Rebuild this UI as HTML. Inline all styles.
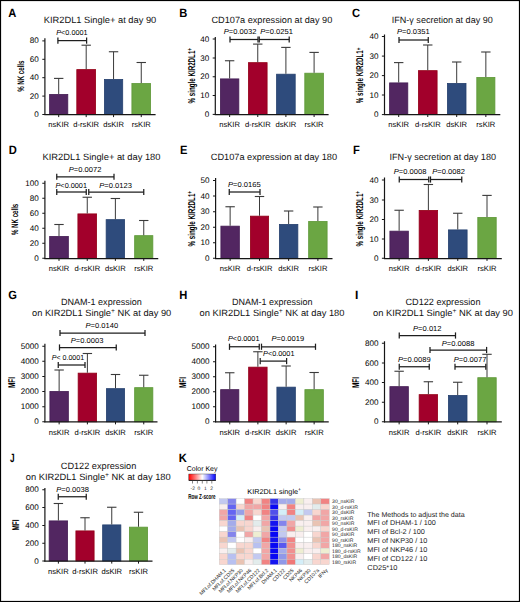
<!DOCTYPE html>
<html><head><meta charset="utf-8"><style>
html,body{margin:0;padding:0;background:#fff;width:520px;height:602px;overflow:hidden;position:relative}
svg text{font-family:"Liberation Sans", sans-serif;stroke-width:0px;text-rendering:geometricPrecision;-webkit-font-smoothing:antialiased}
</style></head><body>
<svg width="520" height="602" viewBox="0 0 520 602" style="position:absolute;left:0;top:0">
<rect x="0" y="0" width="520" height="602" fill="#fff"/>
<text x="8.3" y="17" font-size="12" text-anchor="start" font-weight="700" fill="#000" stroke="#000" textLength="8.06" lengthAdjust="spacingAndGlyphs"  style="">A</text>
<text x="43.75" y="23.3" font-size="9.1" text-anchor="start" font-weight="400" fill="#111" stroke="#111" textLength="112.5" lengthAdjust="spacingAndGlyphs"  style="">KIR2DL1 Single+ at day 90</text>
<rect x="49.60" y="94.40" width="18.20" height="20.10" fill="#522661" stroke="#451d54" stroke-width="0.8"/>
<line x1="58.7" y1="94" x2="58.7" y2="78.4" stroke="#3a3a3a" stroke-width="1.0"/>
<line x1="54.0" y1="78.4" x2="63.400000000000006" y2="78.4" stroke="#3a3a3a" stroke-width="1.1"/>
<line x1="58.7" y1="114.5" x2="58.7" y2="117.1" stroke="#161616" stroke-width="1.0"/>
<text x="58.7" y="126.8" font-size="7.6" text-anchor="middle" font-weight="400" fill="#000" stroke="#000"  style="">nsKIR</text>
<rect x="76.80" y="69.60" width="18.80" height="44.90" fill="#A2002B" stroke="#930016" stroke-width="0.8"/>
<line x1="86.2" y1="69.2" x2="86.2" y2="45.2" stroke="#3a3a3a" stroke-width="1.0"/>
<line x1="81.5" y1="45.2" x2="90.9" y2="45.2" stroke="#3a3a3a" stroke-width="1.1"/>
<line x1="86.2" y1="114.5" x2="86.2" y2="117.1" stroke="#161616" stroke-width="1.0"/>
<text x="86.2" y="126.8" font-size="7.6" text-anchor="middle" font-weight="400" fill="#000" stroke="#000"  style="">d-rsKIR</text>
<rect x="104.40" y="79.40" width="18.30" height="35.10" fill="#2E4B7C" stroke="#25406e" stroke-width="0.8"/>
<line x1="113.55" y1="79" x2="113.55" y2="51.75" stroke="#3a3a3a" stroke-width="1.0"/>
<line x1="108.85" y1="51.75" x2="118.25" y2="51.75" stroke="#3a3a3a" stroke-width="1.1"/>
<line x1="113.55" y1="114.5" x2="113.55" y2="117.1" stroke="#161616" stroke-width="1.0"/>
<text x="113.55" y="126.8" font-size="7.6" text-anchor="middle" font-weight="400" fill="#000" stroke="#000"  style="">dsKIR</text>
<rect x="131.90" y="83.50" width="18.70" height="31.00" fill="#6BA643" stroke="#5e9838" stroke-width="0.8"/>
<line x1="141.25" y1="83.1" x2="141.25" y2="62.5" stroke="#3a3a3a" stroke-width="1.0"/>
<line x1="136.55" y1="62.5" x2="145.95" y2="62.5" stroke="#3a3a3a" stroke-width="1.1"/>
<line x1="141.25" y1="114.5" x2="141.25" y2="117.1" stroke="#161616" stroke-width="1.0"/>
<text x="141.25" y="126.8" font-size="7.6" text-anchor="middle" font-weight="400" fill="#000" stroke="#000"  style="">rsKIR</text>
<line x1="44.9" y1="38.2" x2="44.9" y2="115.1" stroke="#161616" stroke-width="1.2"/>
<line x1="44.3" y1="114.7" x2="155.6" y2="114.7" stroke="#161616" stroke-width="1.25"/>
<line x1="42.3" y1="114.5" x2="44.9" y2="114.5" stroke="#161616" stroke-width="1.0"/>
<text x="38.8" y="117.0" font-size="8.1" text-anchor="end" font-weight="400" fill="#000" stroke="#000"  style="">0</text>
<line x1="42.3" y1="96.1" x2="44.9" y2="96.1" stroke="#161616" stroke-width="1.0"/>
<text x="38.8" y="98.6" font-size="8.1" text-anchor="end" font-weight="400" fill="#000" stroke="#000"  style="">20</text>
<line x1="42.3" y1="77.7" x2="44.9" y2="77.7" stroke="#161616" stroke-width="1.0"/>
<text x="38.8" y="80.2" font-size="8.1" text-anchor="end" font-weight="400" fill="#000" stroke="#000"  style="">40</text>
<line x1="42.3" y1="59.3" x2="44.9" y2="59.3" stroke="#161616" stroke-width="1.0"/>
<text x="38.8" y="61.8" font-size="8.1" text-anchor="end" font-weight="400" fill="#000" stroke="#000"  style="">60</text>
<line x1="42.3" y1="40.9" x2="44.9" y2="40.9" stroke="#161616" stroke-width="1.0"/>
<text x="38.8" y="43.4" font-size="8.1" text-anchor="end" font-weight="400" fill="#000" stroke="#000"  style="">80</text>
<text x="0" y="0" font-size="9.4" font-weight="700" fill="#000" text-anchor="middle" textLength="31.3" lengthAdjust="spacingAndGlyphs" transform="translate(23.8,76.2) rotate(-90)">% NK cells</text>
<text x="56.25" y="35" font-size="7.2" fill="#000" stroke="#000" textLength="31.3" lengthAdjust="spacingAndGlyphs"><tspan font-style="italic">P</tspan>&lt;0.0001</text>
<line x1="57.9" y1="40.6" x2="86.6" y2="40.6" stroke="#1e1e1e" stroke-width="1.25"/>
<line x1="57.9" y1="37.5" x2="57.9" y2="43.7" stroke="#1e1e1e" stroke-width="1.25"/>
<line x1="86.6" y1="37.5" x2="86.6" y2="43.7" stroke="#1e1e1e" stroke-width="1.25"/>
<text x="179.3" y="17" font-size="12" text-anchor="start" font-weight="700" fill="#000" stroke="#000" textLength="8.06" lengthAdjust="spacingAndGlyphs"  style="">B</text>
<text x="211.5" y="23.3" font-size="9.1" text-anchor="start" font-weight="400" fill="#111" stroke="#111" textLength="120.8" lengthAdjust="spacingAndGlyphs"  style="">CD107a expression at day 90</text>
<rect x="220.40" y="78.90" width="18.45" height="35.50" fill="#522661" stroke="#451d54" stroke-width="0.8"/>
<line x1="229.625" y1="78.5" x2="229.625" y2="60.75" stroke="#3a3a3a" stroke-width="1.0"/>
<line x1="224.925" y1="60.75" x2="234.325" y2="60.75" stroke="#3a3a3a" stroke-width="1.1"/>
<line x1="229.625" y1="114.4" x2="229.625" y2="117.0" stroke="#161616" stroke-width="1.0"/>
<text x="229.625" y="126.8" font-size="7.6" text-anchor="middle" font-weight="400" fill="#000" stroke="#000"  style="">nsKIR</text>
<rect x="248.40" y="62.65" width="18.70" height="51.75" fill="#A2002B" stroke="#930016" stroke-width="0.8"/>
<line x1="257.75" y1="62.25" x2="257.75" y2="44.1" stroke="#3a3a3a" stroke-width="1.0"/>
<line x1="253.05" y1="44.1" x2="262.45" y2="44.1" stroke="#3a3a3a" stroke-width="1.1"/>
<line x1="257.75" y1="114.4" x2="257.75" y2="117.0" stroke="#161616" stroke-width="1.0"/>
<text x="257.75" y="126.8" font-size="7.6" text-anchor="middle" font-weight="400" fill="#000" stroke="#000"  style="">d-rsKIR</text>
<rect x="276.60" y="74.20" width="18.60" height="40.20" fill="#2E4B7C" stroke="#25406e" stroke-width="0.8"/>
<line x1="285.9" y1="73.8" x2="285.9" y2="47.4" stroke="#3a3a3a" stroke-width="1.0"/>
<line x1="281.2" y1="47.4" x2="290.59999999999997" y2="47.4" stroke="#3a3a3a" stroke-width="1.1"/>
<line x1="285.9" y1="114.4" x2="285.9" y2="117.0" stroke="#161616" stroke-width="1.0"/>
<text x="285.9" y="126.8" font-size="7.6" text-anchor="middle" font-weight="400" fill="#000" stroke="#000"  style="">dsKIR</text>
<rect x="304.80" y="73.20" width="18.60" height="41.20" fill="#6BA643" stroke="#5e9838" stroke-width="0.8"/>
<line x1="314.1" y1="72.8" x2="314.1" y2="52.4" stroke="#3a3a3a" stroke-width="1.0"/>
<line x1="309.40000000000003" y1="52.4" x2="318.8" y2="52.4" stroke="#3a3a3a" stroke-width="1.1"/>
<line x1="314.1" y1="114.4" x2="314.1" y2="117.0" stroke="#161616" stroke-width="1.0"/>
<text x="314.1" y="126.8" font-size="7.6" text-anchor="middle" font-weight="400" fill="#000" stroke="#000"  style="">rsKIR</text>
<line x1="215.3" y1="37" x2="215.3" y2="115.0" stroke="#161616" stroke-width="1.2"/>
<line x1="214.70000000000002" y1="114.60000000000001" x2="328.6" y2="114.60000000000001" stroke="#161616" stroke-width="1.25"/>
<line x1="212.70000000000002" y1="114.4" x2="215.3" y2="114.4" stroke="#161616" stroke-width="1.0"/>
<text x="209.20000000000002" y="116.9" font-size="8.1" text-anchor="end" font-weight="400" fill="#000" stroke="#000"  style="">0</text>
<line x1="212.70000000000002" y1="95.5" x2="215.3" y2="95.5" stroke="#161616" stroke-width="1.0"/>
<text x="209.20000000000002" y="98.0" font-size="8.1" text-anchor="end" font-weight="400" fill="#000" stroke="#000"  style="">10</text>
<line x1="212.70000000000002" y1="76.75" x2="215.3" y2="76.75" stroke="#161616" stroke-width="1.0"/>
<text x="209.20000000000002" y="79.25" font-size="8.1" text-anchor="end" font-weight="400" fill="#000" stroke="#000"  style="">20</text>
<line x1="212.70000000000002" y1="58" x2="215.3" y2="58" stroke="#161616" stroke-width="1.0"/>
<text x="209.20000000000002" y="60.5" font-size="8.1" text-anchor="end" font-weight="400" fill="#000" stroke="#000"  style="">30</text>
<line x1="212.70000000000002" y1="39" x2="215.3" y2="39" stroke="#161616" stroke-width="1.0"/>
<text x="209.20000000000002" y="41.5" font-size="8.1" text-anchor="end" font-weight="400" fill="#000" stroke="#000"  style="">40</text>
<text x="0" y="0" font-size="9.9" font-weight="700" fill="#000" text-anchor="middle" textLength="55.5" lengthAdjust="spacingAndGlyphs" transform="translate(194.9,75.8) rotate(-90)">% single KIR2DL1<tspan font-size="7" dy="-2.6">+</tspan></text>
<text x="223.75" y="34.2" font-size="7.2" fill="#000" stroke="#000" textLength="32.6" lengthAdjust="spacingAndGlyphs"><tspan font-style="italic">P</tspan>=0.0032</text>
<text x="260.3" y="34.2" font-size="7.2" fill="#000" stroke="#000" textLength="32.6" lengthAdjust="spacingAndGlyphs"><tspan font-style="italic">P</tspan>=0.0251</text>
<line x1="230" y1="39.5" x2="258" y2="39.5" stroke="#1e1e1e" stroke-width="1.25"/>
<line x1="230" y1="36.4" x2="230" y2="42.6" stroke="#1e1e1e" stroke-width="1.25"/>
<line x1="258" y1="36.4" x2="258" y2="42.6" stroke="#1e1e1e" stroke-width="1.25"/>
<line x1="259.25" y1="39.5" x2="289.2" y2="39.5" stroke="#1e1e1e" stroke-width="1.25"/>
<line x1="259.25" y1="36.4" x2="259.25" y2="42.6" stroke="#1e1e1e" stroke-width="1.25"/>
<line x1="289.2" y1="36.4" x2="289.2" y2="42.6" stroke="#1e1e1e" stroke-width="1.25"/>
<text x="352" y="17" font-size="12" text-anchor="start" font-weight="700" fill="#000" stroke="#000" textLength="8.06" lengthAdjust="spacingAndGlyphs"  style="">C</text>
<text x="391.75" y="23.3" font-size="9.1" text-anchor="start" font-weight="400" fill="#111" stroke="#111" textLength="101" lengthAdjust="spacingAndGlyphs"  style="">IFN-γ secretion at day 90</text>
<rect x="389.60" y="82.90" width="18.20" height="31.50" fill="#522661" stroke="#451d54" stroke-width="0.8"/>
<line x1="398.7" y1="82.5" x2="398.7" y2="62.6" stroke="#3a3a3a" stroke-width="1.0"/>
<line x1="394.0" y1="62.6" x2="403.4" y2="62.6" stroke="#3a3a3a" stroke-width="1.1"/>
<line x1="398.7" y1="114.4" x2="398.7" y2="117.0" stroke="#161616" stroke-width="1.0"/>
<text x="398.7" y="126.8" font-size="7.6" text-anchor="middle" font-weight="400" fill="#000" stroke="#000"  style="">nsKIR</text>
<rect x="418.40" y="70.65" width="18.70" height="43.75" fill="#A2002B" stroke="#930016" stroke-width="0.8"/>
<line x1="427.75" y1="70.25" x2="427.75" y2="45" stroke="#3a3a3a" stroke-width="1.0"/>
<line x1="423.05" y1="45" x2="432.45" y2="45" stroke="#3a3a3a" stroke-width="1.1"/>
<line x1="427.75" y1="114.4" x2="427.75" y2="117.0" stroke="#161616" stroke-width="1.0"/>
<text x="427.75" y="126.8" font-size="7.6" text-anchor="middle" font-weight="400" fill="#000" stroke="#000"  style="">d-rsKIR</text>
<rect x="447.40" y="83.40" width="18.60" height="31.00" fill="#2E4B7C" stroke="#25406e" stroke-width="0.8"/>
<line x1="456.7" y1="83" x2="456.7" y2="62" stroke="#3a3a3a" stroke-width="1.0"/>
<line x1="452.0" y1="62" x2="461.4" y2="62" stroke="#3a3a3a" stroke-width="1.1"/>
<line x1="456.7" y1="114.4" x2="456.7" y2="117.0" stroke="#161616" stroke-width="1.0"/>
<text x="456.7" y="126.8" font-size="7.6" text-anchor="middle" font-weight="400" fill="#000" stroke="#000"  style="">dsKIR</text>
<rect x="476.80" y="77.40" width="18.10" height="37.00" fill="#6BA643" stroke="#5e9838" stroke-width="0.8"/>
<line x1="485.85" y1="77" x2="485.85" y2="52" stroke="#3a3a3a" stroke-width="1.0"/>
<line x1="481.15000000000003" y1="52" x2="490.55" y2="52" stroke="#3a3a3a" stroke-width="1.1"/>
<line x1="485.85" y1="114.4" x2="485.85" y2="117.0" stroke="#161616" stroke-width="1.0"/>
<text x="485.85" y="126.8" font-size="7.6" text-anchor="middle" font-weight="400" fill="#000" stroke="#000"  style="">rsKIR</text>
<line x1="384.5" y1="34.5" x2="384.5" y2="115.0" stroke="#161616" stroke-width="1.2"/>
<line x1="383.9" y1="114.60000000000001" x2="500.3" y2="114.60000000000001" stroke="#161616" stroke-width="1.25"/>
<line x1="381.9" y1="114.6" x2="384.5" y2="114.6" stroke="#161616" stroke-width="1.0"/>
<text x="378.4" y="117.1" font-size="8.1" text-anchor="end" font-weight="400" fill="#000" stroke="#000"  style="">0</text>
<line x1="381.9" y1="95" x2="384.5" y2="95" stroke="#161616" stroke-width="1.0"/>
<text x="378.4" y="97.5" font-size="8.1" text-anchor="end" font-weight="400" fill="#000" stroke="#000"  style="">10</text>
<line x1="381.9" y1="75.6" x2="384.5" y2="75.6" stroke="#161616" stroke-width="1.0"/>
<text x="378.4" y="78.1" font-size="8.1" text-anchor="end" font-weight="400" fill="#000" stroke="#000"  style="">20</text>
<line x1="381.9" y1="56.1" x2="384.5" y2="56.1" stroke="#161616" stroke-width="1.0"/>
<text x="378.4" y="58.6" font-size="8.1" text-anchor="end" font-weight="400" fill="#000" stroke="#000"  style="">30</text>
<line x1="381.9" y1="36.5" x2="384.5" y2="36.5" stroke="#161616" stroke-width="1.0"/>
<text x="378.4" y="39.0" font-size="8.1" text-anchor="end" font-weight="400" fill="#000" stroke="#000"  style="">40</text>
<text x="0" y="0" font-size="9.9" font-weight="700" fill="#000" text-anchor="middle" textLength="55.5" lengthAdjust="spacingAndGlyphs" transform="translate(363.1,75.5) rotate(-90)">% single KIR2DL1<tspan font-size="7" dy="-2.6">+</tspan></text>
<text x="397" y="34.2" font-size="7.2" fill="#000" stroke="#000" textLength="32.6" lengthAdjust="spacingAndGlyphs"><tspan font-style="italic">P</tspan>=0.0351</text>
<line x1="399" y1="40" x2="428.25" y2="40" stroke="#1e1e1e" stroke-width="1.25"/>
<line x1="399" y1="36.9" x2="399" y2="43.1" stroke="#1e1e1e" stroke-width="1.25"/>
<line x1="428.25" y1="36.9" x2="428.25" y2="43.1" stroke="#1e1e1e" stroke-width="1.25"/>
<text x="8.75" y="154.3" font-size="12" text-anchor="start" font-weight="700" fill="#000" stroke="#000" textLength="8.06" lengthAdjust="spacingAndGlyphs"  style="">D</text>
<text x="42.5" y="160" font-size="9.1" text-anchor="start" font-weight="400" fill="#111" stroke="#111" textLength="118" lengthAdjust="spacingAndGlyphs"  style="">KIR2DL1 Single+ at day 180</text>
<rect x="49.65" y="236.40" width="18.70" height="21.90" fill="#522661" stroke="#451d54" stroke-width="0.8"/>
<line x1="59.0" y1="236" x2="59.0" y2="224.5" stroke="#3a3a3a" stroke-width="1.0"/>
<line x1="54.3" y1="224.5" x2="63.7" y2="224.5" stroke="#3a3a3a" stroke-width="1.1"/>
<line x1="59.0" y1="258.3" x2="59.0" y2="260.90000000000003" stroke="#161616" stroke-width="1.0"/>
<text x="59.0" y="271.25" font-size="7.6" text-anchor="middle" font-weight="400" fill="#000" stroke="#000"  style="">nsKIR</text>
<rect x="77.90" y="213.90" width="18.70" height="44.40" fill="#A2002B" stroke="#930016" stroke-width="0.8"/>
<line x1="87.25" y1="213.5" x2="87.25" y2="197.25" stroke="#3a3a3a" stroke-width="1.0"/>
<line x1="82.55" y1="197.25" x2="91.95" y2="197.25" stroke="#3a3a3a" stroke-width="1.1"/>
<line x1="87.25" y1="258.3" x2="87.25" y2="260.90000000000003" stroke="#161616" stroke-width="1.0"/>
<text x="87.25" y="271.25" font-size="7.6" text-anchor="middle" font-weight="400" fill="#000" stroke="#000"  style="">d-rsKIR</text>
<rect x="106.15" y="219.65" width="18.45" height="38.65" fill="#2E4B7C" stroke="#25406e" stroke-width="0.8"/>
<line x1="115.375" y1="219.25" x2="115.375" y2="198.5" stroke="#3a3a3a" stroke-width="1.0"/>
<line x1="110.675" y1="198.5" x2="120.075" y2="198.5" stroke="#3a3a3a" stroke-width="1.1"/>
<line x1="115.375" y1="258.3" x2="115.375" y2="260.90000000000003" stroke="#161616" stroke-width="1.0"/>
<text x="115.375" y="271.25" font-size="7.6" text-anchor="middle" font-weight="400" fill="#000" stroke="#000"  style="">dsKIR</text>
<rect x="134.65" y="235.65" width="18.20" height="22.65" fill="#6BA643" stroke="#5e9838" stroke-width="0.8"/>
<line x1="143.75" y1="235.25" x2="143.75" y2="220.5" stroke="#3a3a3a" stroke-width="1.0"/>
<line x1="139.05" y1="220.5" x2="148.45" y2="220.5" stroke="#3a3a3a" stroke-width="1.1"/>
<line x1="143.75" y1="258.3" x2="143.75" y2="260.90000000000003" stroke="#161616" stroke-width="1.0"/>
<text x="143.75" y="271.25" font-size="7.6" text-anchor="middle" font-weight="400" fill="#000" stroke="#000"  style="">rsKIR</text>
<line x1="44.9" y1="180.75" x2="44.9" y2="258.90000000000003" stroke="#161616" stroke-width="1.2"/>
<line x1="44.3" y1="258.5" x2="158.25" y2="258.5" stroke="#161616" stroke-width="1.25"/>
<line x1="42.3" y1="258.25" x2="44.9" y2="258.25" stroke="#161616" stroke-width="1.0"/>
<text x="38.8" y="260.75" font-size="8.1" text-anchor="end" font-weight="400" fill="#000" stroke="#000"  style="">0</text>
<line x1="42.3" y1="243.25" x2="44.9" y2="243.25" stroke="#161616" stroke-width="1.0"/>
<text x="38.8" y="245.75" font-size="8.1" text-anchor="end" font-weight="400" fill="#000" stroke="#000"  style="">20</text>
<line x1="42.3" y1="228.25" x2="44.9" y2="228.25" stroke="#161616" stroke-width="1.0"/>
<text x="38.8" y="230.75" font-size="8.1" text-anchor="end" font-weight="400" fill="#000" stroke="#000"  style="">40</text>
<line x1="42.3" y1="213.25" x2="44.9" y2="213.25" stroke="#161616" stroke-width="1.0"/>
<text x="38.8" y="215.75" font-size="8.1" text-anchor="end" font-weight="400" fill="#000" stroke="#000"  style="">60</text>
<line x1="42.3" y1="198.25" x2="44.9" y2="198.25" stroke="#161616" stroke-width="1.0"/>
<text x="38.8" y="200.75" font-size="8.1" text-anchor="end" font-weight="400" fill="#000" stroke="#000"  style="">80</text>
<line x1="42.3" y1="183.25" x2="44.9" y2="183.25" stroke="#161616" stroke-width="1.0"/>
<text x="38.8" y="185.75" font-size="8.1" text-anchor="end" font-weight="400" fill="#000" stroke="#000"  style="">100</text>
<text x="0" y="0" font-size="9.4" font-weight="700" fill="#000" text-anchor="middle" textLength="31.3" lengthAdjust="spacingAndGlyphs" transform="translate(18.3,219.4) rotate(-90)">% NK cells</text>
<text x="68.75" y="172" font-size="7.2" fill="#000" stroke="#000" textLength="32.6" lengthAdjust="spacingAndGlyphs"><tspan font-style="italic">P</tspan>=0.0072</text>
<text x="55.5" y="187.5" font-size="7.2" fill="#000" stroke="#000" textLength="31.5" lengthAdjust="spacingAndGlyphs"><tspan font-style="italic">P</tspan>&lt;0.0001</text>
<text x="99.25" y="187.5" font-size="7.2" fill="#000" stroke="#000" textLength="32.6" lengthAdjust="spacingAndGlyphs"><tspan font-style="italic">P</tspan>=0.0123</text>
<line x1="56.75" y1="176.75" x2="114" y2="176.75" stroke="#1e1e1e" stroke-width="1.25"/>
<line x1="56.75" y1="173.65" x2="56.75" y2="179.85" stroke="#1e1e1e" stroke-width="1.25"/>
<line x1="114" y1="173.65" x2="114" y2="179.85" stroke="#1e1e1e" stroke-width="1.25"/>
<line x1="56.75" y1="192" x2="86.25" y2="192" stroke="#1e1e1e" stroke-width="1.25"/>
<line x1="56.75" y1="188.9" x2="56.75" y2="195.1" stroke="#1e1e1e" stroke-width="1.25"/>
<line x1="86.25" y1="188.9" x2="86.25" y2="195.1" stroke="#1e1e1e" stroke-width="1.25"/>
<line x1="88.75" y1="192" x2="143.75" y2="192" stroke="#1e1e1e" stroke-width="1.25"/>
<line x1="88.75" y1="188.9" x2="88.75" y2="195.1" stroke="#1e1e1e" stroke-width="1.25"/>
<line x1="143.75" y1="188.9" x2="143.75" y2="195.1" stroke="#1e1e1e" stroke-width="1.25"/>
<text x="180" y="154.3" font-size="12" text-anchor="start" font-weight="700" fill="#000" stroke="#000" textLength="7.44" lengthAdjust="spacingAndGlyphs"  style="">E</text>
<text x="210.75" y="160" font-size="9.1" text-anchor="start" font-weight="400" fill="#111" stroke="#111" textLength="126.3" lengthAdjust="spacingAndGlyphs"  style="">CD107a expression at day 180</text>
<rect x="220.90" y="226.15" width="18.45" height="32.15" fill="#522661" stroke="#451d54" stroke-width="0.8"/>
<line x1="230.125" y1="225.75" x2="230.125" y2="206.75" stroke="#3a3a3a" stroke-width="1.0"/>
<line x1="225.425" y1="206.75" x2="234.825" y2="206.75" stroke="#3a3a3a" stroke-width="1.1"/>
<line x1="230.125" y1="258.3" x2="230.125" y2="260.90000000000003" stroke="#161616" stroke-width="1.0"/>
<text x="230.125" y="271.25" font-size="7.6" text-anchor="middle" font-weight="400" fill="#000" stroke="#000"  style="">nsKIR</text>
<rect x="250.40" y="216.15" width="18.20" height="42.15" fill="#A2002B" stroke="#930016" stroke-width="0.8"/>
<line x1="259.5" y1="215.75" x2="259.5" y2="196.5" stroke="#3a3a3a" stroke-width="1.0"/>
<line x1="254.8" y1="196.5" x2="264.2" y2="196.5" stroke="#3a3a3a" stroke-width="1.1"/>
<line x1="259.5" y1="258.3" x2="259.5" y2="260.90000000000003" stroke="#161616" stroke-width="1.0"/>
<text x="259.5" y="271.25" font-size="7.6" text-anchor="middle" font-weight="400" fill="#000" stroke="#000"  style="">d-rsKIR</text>
<rect x="279.40" y="224.40" width="18.45" height="33.90" fill="#2E4B7C" stroke="#25406e" stroke-width="0.8"/>
<line x1="288.625" y1="224" x2="288.625" y2="211" stroke="#3a3a3a" stroke-width="1.0"/>
<line x1="283.925" y1="211" x2="293.325" y2="211" stroke="#3a3a3a" stroke-width="1.1"/>
<line x1="288.625" y1="258.3" x2="288.625" y2="260.90000000000003" stroke="#161616" stroke-width="1.0"/>
<text x="288.625" y="271.25" font-size="7.6" text-anchor="middle" font-weight="400" fill="#000" stroke="#000"  style="">dsKIR</text>
<rect x="308.65" y="221.40" width="18.45" height="36.90" fill="#6BA643" stroke="#5e9838" stroke-width="0.8"/>
<line x1="317.875" y1="221" x2="317.875" y2="207" stroke="#3a3a3a" stroke-width="1.0"/>
<line x1="313.175" y1="207" x2="322.575" y2="207" stroke="#3a3a3a" stroke-width="1.1"/>
<line x1="317.875" y1="258.3" x2="317.875" y2="260.90000000000003" stroke="#161616" stroke-width="1.0"/>
<text x="317.875" y="271.25" font-size="7.6" text-anchor="middle" font-weight="400" fill="#000" stroke="#000"  style="">rsKIR</text>
<line x1="215.6" y1="178" x2="215.6" y2="258.90000000000003" stroke="#161616" stroke-width="1.2"/>
<line x1="215.0" y1="258.5" x2="332.5" y2="258.5" stroke="#161616" stroke-width="1.25"/>
<line x1="213.0" y1="258.25" x2="215.6" y2="258.25" stroke="#161616" stroke-width="1.0"/>
<text x="209.5" y="260.75" font-size="8.1" text-anchor="end" font-weight="400" fill="#000" stroke="#000"  style="">0</text>
<line x1="213.0" y1="242.75" x2="215.6" y2="242.75" stroke="#161616" stroke-width="1.0"/>
<text x="209.5" y="245.25" font-size="8.1" text-anchor="end" font-weight="400" fill="#000" stroke="#000"  style="">10</text>
<line x1="213.0" y1="227.25" x2="215.6" y2="227.25" stroke="#161616" stroke-width="1.0"/>
<text x="209.5" y="229.75" font-size="8.1" text-anchor="end" font-weight="400" fill="#000" stroke="#000"  style="">20</text>
<line x1="213.0" y1="211.75" x2="215.6" y2="211.75" stroke="#161616" stroke-width="1.0"/>
<text x="209.5" y="214.25" font-size="8.1" text-anchor="end" font-weight="400" fill="#000" stroke="#000"  style="">30</text>
<line x1="213.0" y1="196" x2="215.6" y2="196" stroke="#161616" stroke-width="1.0"/>
<text x="209.5" y="198.5" font-size="8.1" text-anchor="end" font-weight="400" fill="#000" stroke="#000"  style="">40</text>
<line x1="213.0" y1="180.5" x2="215.6" y2="180.5" stroke="#161616" stroke-width="1.0"/>
<text x="209.5" y="183.0" font-size="8.1" text-anchor="end" font-weight="400" fill="#000" stroke="#000"  style="">50</text>
<text x="0" y="0" font-size="9.9" font-weight="700" fill="#000" text-anchor="middle" textLength="55.5" lengthAdjust="spacingAndGlyphs" transform="translate(194.6,218.8) rotate(-90)">% single KIR2DL1<tspan font-size="7" dy="-2.6">+</tspan></text>
<text x="228" y="187" font-size="7.2" fill="#000" stroke="#000" textLength="32.6" lengthAdjust="spacingAndGlyphs"><tspan font-style="italic">P</tspan>=0.0165</text>
<line x1="229.25" y1="192" x2="260" y2="192" stroke="#1e1e1e" stroke-width="1.25"/>
<line x1="229.25" y1="188.9" x2="229.25" y2="195.1" stroke="#1e1e1e" stroke-width="1.25"/>
<line x1="260" y1="188.9" x2="260" y2="195.1" stroke="#1e1e1e" stroke-width="1.25"/>
<text x="353" y="154.3" font-size="12" text-anchor="start" font-weight="700" fill="#000" stroke="#000" textLength="6.82" lengthAdjust="spacingAndGlyphs"  style="">F</text>
<text x="389.5" y="160" font-size="9.1" text-anchor="start" font-weight="400" fill="#111" stroke="#111" textLength="106.5" lengthAdjust="spacingAndGlyphs"  style="">IFN-γ secretion at day 180</text>
<rect x="389.90" y="231.15" width="18.45" height="27.15" fill="#522661" stroke="#451d54" stroke-width="0.8"/>
<line x1="399.125" y1="230.75" x2="399.125" y2="210.25" stroke="#3a3a3a" stroke-width="1.0"/>
<line x1="394.425" y1="210.25" x2="403.825" y2="210.25" stroke="#3a3a3a" stroke-width="1.1"/>
<line x1="399.125" y1="258.3" x2="399.125" y2="260.90000000000003" stroke="#161616" stroke-width="1.0"/>
<text x="399.125" y="271.25" font-size="7.6" text-anchor="middle" font-weight="400" fill="#000" stroke="#000"  style="">nsKIR</text>
<rect x="419.15" y="210.40" width="18.45" height="47.90" fill="#A2002B" stroke="#930016" stroke-width="0.8"/>
<line x1="428.375" y1="210" x2="428.375" y2="184.5" stroke="#3a3a3a" stroke-width="1.0"/>
<line x1="423.675" y1="184.5" x2="433.075" y2="184.5" stroke="#3a3a3a" stroke-width="1.1"/>
<line x1="428.375" y1="258.3" x2="428.375" y2="260.90000000000003" stroke="#161616" stroke-width="1.0"/>
<text x="428.375" y="271.25" font-size="7.6" text-anchor="middle" font-weight="400" fill="#000" stroke="#000"  style="">d-rsKIR</text>
<rect x="448.40" y="229.90" width="18.70" height="28.40" fill="#2E4B7C" stroke="#25406e" stroke-width="0.8"/>
<line x1="457.75" y1="229.5" x2="457.75" y2="213.25" stroke="#3a3a3a" stroke-width="1.0"/>
<line x1="453.05" y1="213.25" x2="462.45" y2="213.25" stroke="#3a3a3a" stroke-width="1.1"/>
<line x1="457.75" y1="258.3" x2="457.75" y2="260.90000000000003" stroke="#161616" stroke-width="1.0"/>
<text x="457.75" y="271.25" font-size="7.6" text-anchor="middle" font-weight="400" fill="#000" stroke="#000"  style="">dsKIR</text>
<rect x="477.80" y="217.40" width="18.40" height="40.90" fill="#6BA643" stroke="#5e9838" stroke-width="0.8"/>
<line x1="487.0" y1="217" x2="487.0" y2="195.4" stroke="#3a3a3a" stroke-width="1.0"/>
<line x1="482.3" y1="195.4" x2="491.7" y2="195.4" stroke="#3a3a3a" stroke-width="1.1"/>
<line x1="487.0" y1="258.3" x2="487.0" y2="260.90000000000003" stroke="#161616" stroke-width="1.0"/>
<text x="487.0" y="271.25" font-size="7.6" text-anchor="middle" font-weight="400" fill="#000" stroke="#000"  style="">rsKIR</text>
<line x1="384.5" y1="177.5" x2="384.5" y2="258.90000000000003" stroke="#161616" stroke-width="1.2"/>
<line x1="383.9" y1="258.5" x2="501.8" y2="258.5" stroke="#161616" stroke-width="1.25"/>
<line x1="381.9" y1="258.25" x2="384.5" y2="258.25" stroke="#161616" stroke-width="1.0"/>
<text x="378.4" y="260.75" font-size="8.1" text-anchor="end" font-weight="400" fill="#000" stroke="#000"  style="">0</text>
<line x1="381.9" y1="239" x2="384.5" y2="239" stroke="#161616" stroke-width="1.0"/>
<text x="378.4" y="241.5" font-size="8.1" text-anchor="end" font-weight="400" fill="#000" stroke="#000"  style="">10</text>
<line x1="381.9" y1="219.5" x2="384.5" y2="219.5" stroke="#161616" stroke-width="1.0"/>
<text x="378.4" y="222.0" font-size="8.1" text-anchor="end" font-weight="400" fill="#000" stroke="#000"  style="">20</text>
<line x1="381.9" y1="200" x2="384.5" y2="200" stroke="#161616" stroke-width="1.0"/>
<text x="378.4" y="202.5" font-size="8.1" text-anchor="end" font-weight="400" fill="#000" stroke="#000"  style="">30</text>
<line x1="381.9" y1="180" x2="384.5" y2="180" stroke="#161616" stroke-width="1.0"/>
<text x="378.4" y="182.5" font-size="8.1" text-anchor="end" font-weight="400" fill="#000" stroke="#000"  style="">40</text>
<text x="0" y="0" font-size="9.9" font-weight="700" fill="#000" text-anchor="middle" textLength="55.5" lengthAdjust="spacingAndGlyphs" transform="translate(363.0,218.8) rotate(-90)">% single KIR2DL1<tspan font-size="7" dy="-2.6">+</tspan></text>
<text x="393.75" y="174.3" font-size="7.2" fill="#000" stroke="#000" textLength="32.6" lengthAdjust="spacingAndGlyphs"><tspan font-style="italic">P</tspan>=0.0008</text>
<text x="432.3" y="174.3" font-size="7.2" fill="#000" stroke="#000" textLength="32.6" lengthAdjust="spacingAndGlyphs"><tspan font-style="italic">P</tspan>=0.0082</text>
<line x1="399.25" y1="179.5" x2="428.75" y2="179.5" stroke="#1e1e1e" stroke-width="1.25"/>
<line x1="399.25" y1="176.4" x2="399.25" y2="182.6" stroke="#1e1e1e" stroke-width="1.25"/>
<line x1="428.75" y1="176.4" x2="428.75" y2="182.6" stroke="#1e1e1e" stroke-width="1.25"/>
<line x1="430.5" y1="179.5" x2="461.75" y2="179.5" stroke="#1e1e1e" stroke-width="1.25"/>
<line x1="430.5" y1="176.4" x2="430.5" y2="182.6" stroke="#1e1e1e" stroke-width="1.25"/>
<line x1="461.75" y1="176.4" x2="461.75" y2="182.6" stroke="#1e1e1e" stroke-width="1.25"/>
<text x="8.25" y="298.75" font-size="12" text-anchor="start" font-weight="700" fill="#000" stroke="#000" textLength="8.68" lengthAdjust="spacingAndGlyphs"  style="">G</text>
<text x="61" y="305" font-size="9.1" text-anchor="start" font-weight="400" fill="#111" stroke="#111" textLength="80.75" lengthAdjust="spacingAndGlyphs"  style="">DNAM-1 expression</text>
<text x="32" y="316.3" font-size="9.1" text-anchor="start" font-weight="400" fill="#111" stroke="#111" textLength="139.3" lengthAdjust="spacingAndGlyphs"  style="">on KIR2DL1 Single<tspan font-size="6.6" dy="-3.2">+</tspan><tspan dy="3.2"> NK at day 90</tspan></text>
<rect x="49.90" y="391.40" width="18.45" height="30.35" fill="#522661" stroke="#451d54" stroke-width="0.8"/>
<line x1="59.125" y1="391" x2="59.125" y2="370" stroke="#3a3a3a" stroke-width="1.0"/>
<line x1="54.425" y1="370" x2="63.825" y2="370" stroke="#3a3a3a" stroke-width="1.1"/>
<line x1="59.125" y1="421.75" x2="59.125" y2="424.35" stroke="#161616" stroke-width="1.0"/>
<text x="59.125" y="434.5" font-size="7.6" text-anchor="middle" font-weight="400" fill="#000" stroke="#000"  style="">nsKIR</text>
<rect x="78.15" y="373.15" width="18.45" height="48.60" fill="#A2002B" stroke="#930016" stroke-width="0.8"/>
<line x1="87.375" y1="372.75" x2="87.375" y2="353.5" stroke="#3a3a3a" stroke-width="1.0"/>
<line x1="82.675" y1="353.5" x2="92.075" y2="353.5" stroke="#3a3a3a" stroke-width="1.1"/>
<line x1="87.375" y1="421.75" x2="87.375" y2="424.35" stroke="#161616" stroke-width="1.0"/>
<text x="87.375" y="434.5" font-size="7.6" text-anchor="middle" font-weight="400" fill="#000" stroke="#000"  style="">d-rsKIR</text>
<rect x="106.40" y="388.65" width="18.20" height="33.10" fill="#2E4B7C" stroke="#25406e" stroke-width="0.8"/>
<line x1="115.5" y1="388.25" x2="115.5" y2="374.5" stroke="#3a3a3a" stroke-width="1.0"/>
<line x1="110.8" y1="374.5" x2="120.2" y2="374.5" stroke="#3a3a3a" stroke-width="1.1"/>
<line x1="115.5" y1="421.75" x2="115.5" y2="424.35" stroke="#161616" stroke-width="1.0"/>
<text x="115.5" y="434.5" font-size="7.6" text-anchor="middle" font-weight="400" fill="#000" stroke="#000"  style="">dsKIR</text>
<rect x="134.65" y="387.65" width="18.20" height="34.10" fill="#6BA643" stroke="#5e9838" stroke-width="0.8"/>
<line x1="143.75" y1="387.25" x2="143.75" y2="375.25" stroke="#3a3a3a" stroke-width="1.0"/>
<line x1="139.05" y1="375.25" x2="148.45" y2="375.25" stroke="#3a3a3a" stroke-width="1.1"/>
<line x1="143.75" y1="421.75" x2="143.75" y2="424.35" stroke="#161616" stroke-width="1.0"/>
<text x="143.75" y="434.5" font-size="7.6" text-anchor="middle" font-weight="400" fill="#000" stroke="#000"  style="">rsKIR</text>
<line x1="44.9" y1="343.75" x2="44.9" y2="422.35" stroke="#161616" stroke-width="1.2"/>
<line x1="44.3" y1="421.95" x2="157.5" y2="421.95" stroke="#161616" stroke-width="1.25"/>
<line x1="42.3" y1="421.75" x2="44.9" y2="421.75" stroke="#161616" stroke-width="1.0"/>
<text x="38.8" y="424.25" font-size="8.1" text-anchor="end" font-weight="400" fill="#000" stroke="#000"  style="">0</text>
<line x1="42.3" y1="406.75" x2="44.9" y2="406.75" stroke="#161616" stroke-width="1.0"/>
<text x="38.8" y="409.25" font-size="8.1" text-anchor="end" font-weight="400" fill="#000" stroke="#000"  style="">1000</text>
<line x1="42.3" y1="391.5" x2="44.9" y2="391.5" stroke="#161616" stroke-width="1.0"/>
<text x="38.8" y="394.0" font-size="8.1" text-anchor="end" font-weight="400" fill="#000" stroke="#000"  style="">2000</text>
<line x1="42.3" y1="376.5" x2="44.9" y2="376.5" stroke="#161616" stroke-width="1.0"/>
<text x="38.8" y="379.0" font-size="8.1" text-anchor="end" font-weight="400" fill="#000" stroke="#000"  style="">3000</text>
<line x1="42.3" y1="361.25" x2="44.9" y2="361.25" stroke="#161616" stroke-width="1.0"/>
<text x="38.8" y="363.75" font-size="8.1" text-anchor="end" font-weight="400" fill="#000" stroke="#000"  style="">4000</text>
<line x1="42.3" y1="346.25" x2="44.9" y2="346.25" stroke="#161616" stroke-width="1.0"/>
<text x="38.8" y="348.75" font-size="8.1" text-anchor="end" font-weight="400" fill="#000" stroke="#000"  style="">5000</text>
<text x="0" y="0" font-size="9.8" font-weight="700" fill="#000" text-anchor="middle" textLength="11" lengthAdjust="spacingAndGlyphs" transform="translate(14.9,382.5) rotate(-90)">MFI</text>
<text x="85.5" y="328.25" font-size="7.2" fill="#000" stroke="#000" textLength="32.6" lengthAdjust="spacingAndGlyphs"><tspan font-style="italic">P</tspan>=0.0140</text>
<text x="70.75" y="343.25" font-size="7.2" fill="#000" stroke="#000" textLength="32.6" lengthAdjust="spacingAndGlyphs"><tspan font-style="italic">P</tspan>=0.0003</text>
<text x="51.75" y="359.5" font-size="7.2" fill="#000" stroke="#000" textLength="32.4" lengthAdjust="spacingAndGlyphs"><tspan font-style="italic">P</tspan>&lt; 0.0001</text>
<line x1="60" y1="333" x2="145" y2="333" stroke="#1e1e1e" stroke-width="1.25"/>
<line x1="60" y1="329.9" x2="60" y2="336.1" stroke="#1e1e1e" stroke-width="1.25"/>
<line x1="145" y1="329.9" x2="145" y2="336.1" stroke="#1e1e1e" stroke-width="1.25"/>
<line x1="59.5" y1="347.5" x2="116.25" y2="347.5" stroke="#1e1e1e" stroke-width="1.25"/>
<line x1="59.5" y1="344.4" x2="59.5" y2="350.6" stroke="#1e1e1e" stroke-width="1.25"/>
<line x1="116.25" y1="344.4" x2="116.25" y2="350.6" stroke="#1e1e1e" stroke-width="1.25"/>
<line x1="58.25" y1="365" x2="85" y2="365" stroke="#1e1e1e" stroke-width="1.25"/>
<line x1="58.25" y1="361.9" x2="58.25" y2="368.1" stroke="#1e1e1e" stroke-width="1.25"/>
<line x1="85" y1="361.9" x2="85" y2="368.1" stroke="#1e1e1e" stroke-width="1.25"/>
<text x="179.25" y="298.75" font-size="12" text-anchor="start" font-weight="700" fill="#000" stroke="#000" textLength="8.06" lengthAdjust="spacingAndGlyphs"  style="">H</text>
<text x="232" y="305" font-size="9.1" text-anchor="start" font-weight="400" fill="#111" stroke="#111" textLength="80.5" lengthAdjust="spacingAndGlyphs"  style="">DNAM-1 expression</text>
<text x="199.5" y="316.3" font-size="9.1" text-anchor="start" font-weight="400" fill="#111" stroke="#111" textLength="145" lengthAdjust="spacingAndGlyphs"  style="">on KIR2DL1 Single<tspan font-size="6.6" dy="-3.2">+</tspan><tspan dy="3.2"> NK at day 180</tspan></text>
<rect x="220.65" y="389.65" width="18.20" height="32.10" fill="#522661" stroke="#451d54" stroke-width="0.8"/>
<line x1="229.75" y1="389.25" x2="229.75" y2="372.75" stroke="#3a3a3a" stroke-width="1.0"/>
<line x1="225.05" y1="372.75" x2="234.45" y2="372.75" stroke="#3a3a3a" stroke-width="1.1"/>
<line x1="229.75" y1="421.75" x2="229.75" y2="424.35" stroke="#161616" stroke-width="1.0"/>
<text x="229.75" y="434.5" font-size="7.6" text-anchor="middle" font-weight="400" fill="#000" stroke="#000"  style="">nsKIR</text>
<rect x="248.65" y="367.15" width="18.45" height="54.60" fill="#A2002B" stroke="#930016" stroke-width="0.8"/>
<line x1="257.875" y1="366.75" x2="257.875" y2="351.75" stroke="#3a3a3a" stroke-width="1.0"/>
<line x1="253.175" y1="351.75" x2="262.575" y2="351.75" stroke="#3a3a3a" stroke-width="1.1"/>
<line x1="257.875" y1="421.75" x2="257.875" y2="424.35" stroke="#161616" stroke-width="1.0"/>
<text x="257.875" y="434.5" font-size="7.6" text-anchor="middle" font-weight="400" fill="#000" stroke="#000"  style="">d-rsKIR</text>
<rect x="276.90" y="387.15" width="18.45" height="34.60" fill="#2E4B7C" stroke="#25406e" stroke-width="0.8"/>
<line x1="286.125" y1="386.75" x2="286.125" y2="366" stroke="#3a3a3a" stroke-width="1.0"/>
<line x1="281.425" y1="366" x2="290.825" y2="366" stroke="#3a3a3a" stroke-width="1.1"/>
<line x1="286.125" y1="421.75" x2="286.125" y2="424.35" stroke="#161616" stroke-width="1.0"/>
<text x="286.125" y="434.5" font-size="7.6" text-anchor="middle" font-weight="400" fill="#000" stroke="#000"  style="">dsKIR</text>
<rect x="304.90" y="389.65" width="18.45" height="32.10" fill="#6BA643" stroke="#5e9838" stroke-width="0.8"/>
<line x1="314.125" y1="389.25" x2="314.125" y2="372.5" stroke="#3a3a3a" stroke-width="1.0"/>
<line x1="309.425" y1="372.5" x2="318.825" y2="372.5" stroke="#3a3a3a" stroke-width="1.1"/>
<line x1="314.125" y1="421.75" x2="314.125" y2="424.35" stroke="#161616" stroke-width="1.0"/>
<text x="314.125" y="434.5" font-size="7.6" text-anchor="middle" font-weight="400" fill="#000" stroke="#000"  style="">rsKIR</text>
<line x1="215.6" y1="344.5" x2="215.6" y2="422.35" stroke="#161616" stroke-width="1.2"/>
<line x1="215.0" y1="421.95" x2="328.75" y2="421.95" stroke="#161616" stroke-width="1.25"/>
<line x1="213.0" y1="421.75" x2="215.6" y2="421.75" stroke="#161616" stroke-width="1.0"/>
<text x="209.5" y="424.25" font-size="8.1" text-anchor="end" font-weight="400" fill="#000" stroke="#000"  style="">0</text>
<line x1="213.0" y1="406.75" x2="215.6" y2="406.75" stroke="#161616" stroke-width="1.0"/>
<text x="209.5" y="409.25" font-size="8.1" text-anchor="end" font-weight="400" fill="#000" stroke="#000"  style="">1000</text>
<line x1="213.0" y1="391.75" x2="215.6" y2="391.75" stroke="#161616" stroke-width="1.0"/>
<text x="209.5" y="394.25" font-size="8.1" text-anchor="end" font-weight="400" fill="#000" stroke="#000"  style="">2000</text>
<line x1="213.0" y1="376.75" x2="215.6" y2="376.75" stroke="#161616" stroke-width="1.0"/>
<text x="209.5" y="379.25" font-size="8.1" text-anchor="end" font-weight="400" fill="#000" stroke="#000"  style="">3000</text>
<line x1="213.0" y1="361.75" x2="215.6" y2="361.75" stroke="#161616" stroke-width="1.0"/>
<text x="209.5" y="364.25" font-size="8.1" text-anchor="end" font-weight="400" fill="#000" stroke="#000"  style="">4000</text>
<line x1="213.0" y1="346.75" x2="215.6" y2="346.75" stroke="#161616" stroke-width="1.0"/>
<text x="209.5" y="349.25" font-size="8.1" text-anchor="end" font-weight="400" fill="#000" stroke="#000"  style="">5000</text>
<text x="0" y="0" font-size="9.8" font-weight="700" fill="#000" text-anchor="middle" textLength="11" lengthAdjust="spacingAndGlyphs" transform="translate(185.9,382.5) rotate(-90)">MFI</text>
<text x="228" y="341.25" font-size="7.2" fill="#000" stroke="#000" textLength="31.5" lengthAdjust="spacingAndGlyphs"><tspan font-style="italic">P</tspan>&lt;0.0001</text>
<text x="271.5" y="341.25" font-size="7.2" fill="#000" stroke="#000" textLength="32.6" lengthAdjust="spacingAndGlyphs"><tspan font-style="italic">P</tspan>=0.0019</text>
<text x="263" y="356.25" font-size="7.2" fill="#000" stroke="#000" textLength="31.5" lengthAdjust="spacingAndGlyphs"><tspan font-style="italic">P</tspan>&lt;0.0001</text>
<line x1="229.5" y1="346.75" x2="259.25" y2="346.75" stroke="#1e1e1e" stroke-width="1.25"/>
<line x1="229.5" y1="343.65" x2="229.5" y2="349.85" stroke="#1e1e1e" stroke-width="1.25"/>
<line x1="259.25" y1="343.65" x2="259.25" y2="349.85" stroke="#1e1e1e" stroke-width="1.25"/>
<line x1="261.5" y1="346.75" x2="315.5" y2="346.75" stroke="#1e1e1e" stroke-width="1.25"/>
<line x1="261.5" y1="343.65" x2="261.5" y2="349.85" stroke="#1e1e1e" stroke-width="1.25"/>
<line x1="315.5" y1="343.65" x2="315.5" y2="349.85" stroke="#1e1e1e" stroke-width="1.25"/>
<line x1="260.2" y1="361.1" x2="286.6" y2="361.1" stroke="#1e1e1e" stroke-width="1.25"/>
<line x1="260.2" y1="358.0" x2="260.2" y2="364.20000000000005" stroke="#1e1e1e" stroke-width="1.25"/>
<line x1="286.6" y1="358.0" x2="286.6" y2="364.20000000000005" stroke="#1e1e1e" stroke-width="1.25"/>
<text x="355" y="298.75" font-size="12" text-anchor="start" font-weight="700" fill="#000" stroke="#000" textLength="3.34" lengthAdjust="spacingAndGlyphs"  style="">I</text>
<text x="405.5" y="305" font-size="9.1" text-anchor="start" font-weight="400" fill="#111" stroke="#111" textLength="75" lengthAdjust="spacingAndGlyphs"  style="">CD122 expression</text>
<text x="373" y="316.3" font-size="9.1" text-anchor="start" font-weight="400" fill="#111" stroke="#111" textLength="140" lengthAdjust="spacingAndGlyphs"  style="">on KIR2DL1 Single<tspan font-size="6.6" dy="-3.2">+</tspan><tspan dy="3.2"> NK at day 90</tspan></text>
<rect x="389.90" y="386.65" width="18.45" height="35.10" fill="#522661" stroke="#451d54" stroke-width="0.8"/>
<line x1="399.125" y1="386.25" x2="399.125" y2="371.25" stroke="#3a3a3a" stroke-width="1.0"/>
<line x1="394.425" y1="371.25" x2="403.825" y2="371.25" stroke="#3a3a3a" stroke-width="1.1"/>
<line x1="399.125" y1="421.75" x2="399.125" y2="424.35" stroke="#161616" stroke-width="1.0"/>
<text x="399.125" y="434.5" font-size="7.6" text-anchor="middle" font-weight="400" fill="#000" stroke="#000"  style="">nsKIR</text>
<rect x="419.15" y="394.65" width="18.45" height="27.10" fill="#A2002B" stroke="#930016" stroke-width="0.8"/>
<line x1="428.375" y1="394.25" x2="428.375" y2="381.75" stroke="#3a3a3a" stroke-width="1.0"/>
<line x1="423.675" y1="381.75" x2="433.075" y2="381.75" stroke="#3a3a3a" stroke-width="1.1"/>
<line x1="428.375" y1="421.75" x2="428.375" y2="424.35" stroke="#161616" stroke-width="1.0"/>
<text x="428.375" y="434.5" font-size="7.6" text-anchor="middle" font-weight="400" fill="#000" stroke="#000"  style="">d-rsKIR</text>
<rect x="448.40" y="395.40" width="18.60" height="26.35" fill="#2E4B7C" stroke="#25406e" stroke-width="0.8"/>
<line x1="457.7" y1="395" x2="457.7" y2="382.25" stroke="#3a3a3a" stroke-width="1.0"/>
<line x1="453.0" y1="382.25" x2="462.4" y2="382.25" stroke="#3a3a3a" stroke-width="1.1"/>
<line x1="457.7" y1="421.75" x2="457.7" y2="424.35" stroke="#161616" stroke-width="1.0"/>
<text x="457.7" y="434.5" font-size="7.6" text-anchor="middle" font-weight="400" fill="#000" stroke="#000"  style="">dsKIR</text>
<rect x="477.80" y="377.70" width="18.40" height="44.05" fill="#6BA643" stroke="#5e9838" stroke-width="0.8"/>
<line x1="487.0" y1="377.3" x2="487.0" y2="354.3" stroke="#3a3a3a" stroke-width="1.0"/>
<line x1="482.3" y1="354.3" x2="491.7" y2="354.3" stroke="#3a3a3a" stroke-width="1.1"/>
<line x1="487.0" y1="421.75" x2="487.0" y2="424.35" stroke="#161616" stroke-width="1.0"/>
<text x="487.0" y="434.5" font-size="7.6" text-anchor="middle" font-weight="400" fill="#000" stroke="#000"  style="">rsKIR</text>
<line x1="384.5" y1="341.25" x2="384.5" y2="422.35" stroke="#161616" stroke-width="1.2"/>
<line x1="383.9" y1="421.95" x2="501.8" y2="421.95" stroke="#161616" stroke-width="1.25"/>
<line x1="381.9" y1="421.75" x2="384.5" y2="421.75" stroke="#161616" stroke-width="1.0"/>
<text x="378.4" y="424.25" font-size="8.1" text-anchor="end" font-weight="400" fill="#000" stroke="#000"  style="">0</text>
<line x1="381.9" y1="402.25" x2="384.5" y2="402.25" stroke="#161616" stroke-width="1.0"/>
<text x="378.4" y="404.75" font-size="8.1" text-anchor="end" font-weight="400" fill="#000" stroke="#000"  style="">200</text>
<line x1="381.9" y1="382.5" x2="384.5" y2="382.5" stroke="#161616" stroke-width="1.0"/>
<text x="378.4" y="385.0" font-size="8.1" text-anchor="end" font-weight="400" fill="#000" stroke="#000"  style="">400</text>
<line x1="381.9" y1="363" x2="384.5" y2="363" stroke="#161616" stroke-width="1.0"/>
<text x="378.4" y="365.5" font-size="8.1" text-anchor="end" font-weight="400" fill="#000" stroke="#000"  style="">600</text>
<line x1="381.9" y1="343.25" x2="384.5" y2="343.25" stroke="#161616" stroke-width="1.0"/>
<text x="378.4" y="345.75" font-size="8.1" text-anchor="end" font-weight="400" fill="#000" stroke="#000"  style="">800</text>
<text x="0" y="0" font-size="9.8" font-weight="700" fill="#000" text-anchor="middle" textLength="11" lengthAdjust="spacingAndGlyphs" transform="translate(359.3,382.5) rotate(-90)">MFI</text>
<text x="413" y="330.75" font-size="7.2" fill="#000" stroke="#000" textLength="28.6" lengthAdjust="spacingAndGlyphs"><tspan font-style="italic">P</tspan>=0.012</text>
<text x="441.75" y="345.5" font-size="7.2" fill="#000" stroke="#000" textLength="32.6" lengthAdjust="spacingAndGlyphs"><tspan font-style="italic">P</tspan>=0.0088</text>
<text x="398" y="361.75" font-size="7.2" fill="#000" stroke="#000" textLength="32.6" lengthAdjust="spacingAndGlyphs"><tspan font-style="italic">P</tspan>=0.0089</text>
<text x="453.75" y="361.75" font-size="7.2" fill="#000" stroke="#000" textLength="32.6" lengthAdjust="spacingAndGlyphs"><tspan font-style="italic">P</tspan>=0.0077</text>
<line x1="399.25" y1="335.5" x2="455.5" y2="335.5" stroke="#1e1e1e" stroke-width="1.25"/>
<line x1="399.25" y1="332.4" x2="399.25" y2="338.6" stroke="#1e1e1e" stroke-width="1.25"/>
<line x1="455.5" y1="332.4" x2="455.5" y2="338.6" stroke="#1e1e1e" stroke-width="1.25"/>
<line x1="430" y1="350" x2="486.6" y2="350" stroke="#1e1e1e" stroke-width="1.25"/>
<line x1="430" y1="346.9" x2="430" y2="353.1" stroke="#1e1e1e" stroke-width="1.25"/>
<line x1="486.6" y1="346.9" x2="486.6" y2="353.1" stroke="#1e1e1e" stroke-width="1.25"/>
<line x1="399.25" y1="366.75" x2="429.25" y2="366.75" stroke="#1e1e1e" stroke-width="1.25"/>
<line x1="399.25" y1="363.65" x2="399.25" y2="369.85" stroke="#1e1e1e" stroke-width="1.25"/>
<line x1="429.25" y1="363.65" x2="429.25" y2="369.85" stroke="#1e1e1e" stroke-width="1.25"/>
<line x1="455" y1="366.75" x2="485.8" y2="366.75" stroke="#1e1e1e" stroke-width="1.25"/>
<line x1="455" y1="363.65" x2="455" y2="369.85" stroke="#1e1e1e" stroke-width="1.25"/>
<line x1="485.8" y1="363.65" x2="485.8" y2="369.85" stroke="#1e1e1e" stroke-width="1.25"/>
<text x="10" y="461.75" font-size="12" text-anchor="start" font-weight="700" fill="#000" stroke="#000" textLength="4.6" lengthAdjust="spacingAndGlyphs"  style="">J</text>
<text x="60.75" y="468.75" font-size="9.1" text-anchor="start" font-weight="400" fill="#111" stroke="#111" textLength="75.5" lengthAdjust="spacingAndGlyphs"  style="">CD122 expression</text>
<text x="25.75" y="480" font-size="9.1" text-anchor="start" font-weight="400" fill="#111" stroke="#111" textLength="145" lengthAdjust="spacingAndGlyphs"  style="">on KIR2DL1 Single<tspan font-size="6.6" dy="-3.2">+</tspan><tspan dy="3.2"> NK at day 180</tspan></text>
<rect x="49.15" y="520.90" width="18.45" height="40.10" fill="#522661" stroke="#451d54" stroke-width="0.8"/>
<line x1="58.375" y1="520.5" x2="58.375" y2="503.5" stroke="#3a3a3a" stroke-width="1.0"/>
<line x1="53.675" y1="503.5" x2="63.075" y2="503.5" stroke="#3a3a3a" stroke-width="1.1"/>
<line x1="58.375" y1="561" x2="58.375" y2="563.6" stroke="#161616" stroke-width="1.0"/>
<text x="58.375" y="573.75" font-size="7.6" text-anchor="middle" font-weight="400" fill="#000" stroke="#000"  style="">nsKIR</text>
<rect x="75.90" y="530.90" width="18.20" height="30.10" fill="#A2002B" stroke="#930016" stroke-width="0.8"/>
<line x1="85.0" y1="530.5" x2="85.0" y2="517.75" stroke="#3a3a3a" stroke-width="1.0"/>
<line x1="80.3" y1="517.75" x2="89.7" y2="517.75" stroke="#3a3a3a" stroke-width="1.1"/>
<line x1="85.0" y1="561" x2="85.0" y2="563.6" stroke="#161616" stroke-width="1.0"/>
<text x="85.0" y="573.75" font-size="7.6" text-anchor="middle" font-weight="400" fill="#000" stroke="#000"  style="">d-rsKIR</text>
<rect x="102.65" y="524.90" width="18.20" height="36.10" fill="#2E4B7C" stroke="#25406e" stroke-width="0.8"/>
<line x1="111.75" y1="524.5" x2="111.75" y2="507.25" stroke="#3a3a3a" stroke-width="1.0"/>
<line x1="107.05" y1="507.25" x2="116.45" y2="507.25" stroke="#3a3a3a" stroke-width="1.1"/>
<line x1="111.75" y1="561" x2="111.75" y2="563.6" stroke="#161616" stroke-width="1.0"/>
<text x="111.75" y="573.75" font-size="7.6" text-anchor="middle" font-weight="400" fill="#000" stroke="#000"  style="">dsKIR</text>
<rect x="129.40" y="527.15" width="18.20" height="33.85" fill="#6BA643" stroke="#5e9838" stroke-width="0.8"/>
<line x1="138.5" y1="526.75" x2="138.5" y2="512.25" stroke="#3a3a3a" stroke-width="1.0"/>
<line x1="133.8" y1="512.25" x2="143.2" y2="512.25" stroke="#3a3a3a" stroke-width="1.1"/>
<line x1="138.5" y1="561" x2="138.5" y2="563.6" stroke="#161616" stroke-width="1.0"/>
<text x="138.5" y="573.75" font-size="7.6" text-anchor="middle" font-weight="400" fill="#000" stroke="#000"  style="">rsKIR</text>
<line x1="44.9" y1="488" x2="44.9" y2="561.6" stroke="#161616" stroke-width="1.2"/>
<line x1="44.3" y1="561.2" x2="152.5" y2="561.2" stroke="#161616" stroke-width="1.25"/>
<line x1="42.3" y1="561" x2="44.9" y2="561" stroke="#161616" stroke-width="1.0"/>
<text x="38.8" y="563.5" font-size="8.1" text-anchor="end" font-weight="400" fill="#000" stroke="#000"  style="">0</text>
<line x1="42.3" y1="543.25" x2="44.9" y2="543.25" stroke="#161616" stroke-width="1.0"/>
<text x="38.8" y="545.75" font-size="8.1" text-anchor="end" font-weight="400" fill="#000" stroke="#000"  style="">200</text>
<line x1="42.3" y1="525.5" x2="44.9" y2="525.5" stroke="#161616" stroke-width="1.0"/>
<text x="38.8" y="528.0" font-size="8.1" text-anchor="end" font-weight="400" fill="#000" stroke="#000"  style="">400</text>
<line x1="42.3" y1="507.5" x2="44.9" y2="507.5" stroke="#161616" stroke-width="1.0"/>
<text x="38.8" y="510.0" font-size="8.1" text-anchor="end" font-weight="400" fill="#000" stroke="#000"  style="">600</text>
<line x1="42.3" y1="489.75" x2="44.9" y2="489.75" stroke="#161616" stroke-width="1.0"/>
<text x="38.8" y="492.25" font-size="8.1" text-anchor="end" font-weight="400" fill="#000" stroke="#000"  style="">800</text>
<text x="0" y="0" font-size="9.8" font-weight="700" fill="#000" text-anchor="middle" textLength="11" lengthAdjust="spacingAndGlyphs" transform="translate(19.1,525) rotate(-90)">MFI</text>
<text x="56.25" y="491.75" font-size="7.2" fill="#000" stroke="#000" textLength="32.6" lengthAdjust="spacingAndGlyphs"><tspan font-style="italic">P</tspan>=0.0038</text>
<line x1="58.25" y1="496.75" x2="86.25" y2="496.75" stroke="#1e1e1e" stroke-width="1.25"/>
<line x1="58.25" y1="493.65" x2="58.25" y2="499.85" stroke="#1e1e1e" stroke-width="1.25"/>
<line x1="86.25" y1="493.65" x2="86.25" y2="499.85" stroke="#1e1e1e" stroke-width="1.25"/>
<text x="178.8" y="461.8" font-size="12" text-anchor="start" font-weight="700" fill="#000" stroke="#000" textLength="8.06" lengthAdjust="spacingAndGlyphs"  style="">K</text>
<text x="186.8" y="470.6" font-size="7" text-anchor="start" font-weight="400" fill="#000" stroke="#000" textLength="30.6" lengthAdjust="spacingAndGlyphs"  style="">Color Key</text>
<defs><linearGradient id="ck" x1="0" x2="1" y1="0" y2="0"><stop offset="0" stop-color="#ff0000"/><stop offset="0.5" stop-color="#ffffff"/><stop offset="1" stop-color="#0000ff"/></linearGradient></defs>
<rect x="188.8" y="474" width="27" height="6.3" fill="url(#ck)" stroke="#333" stroke-width="0.4"/>
<line x1="188.8" y1="480.4" x2="215.8" y2="480.4" stroke="#111" stroke-width="0.9"/>
<line x1="192.5" y1="480.8" x2="192.5" y2="483.5" stroke="#555" stroke-width="0.7"/>
<line x1="197.4" y1="480.8" x2="197.4" y2="483.5" stroke="#555" stroke-width="0.7"/>
<line x1="202.3" y1="480.8" x2="202.3" y2="483.5" stroke="#555" stroke-width="0.7"/>
<line x1="206.9" y1="480.8" x2="206.9" y2="483.5" stroke="#555" stroke-width="0.7"/>
<line x1="211.8" y1="480.8" x2="211.8" y2="483.5" stroke="#555" stroke-width="0.7"/>
<text x="192.7" y="489.9" font-size="4.9" text-anchor="middle" font-weight="400" fill="#1a1a1a" stroke="#1a1a1a"  style="">-2</text>
<text x="198.8" y="489.9" font-size="4.9" text-anchor="middle" font-weight="400" fill="#1a1a1a" stroke="#1a1a1a"  style="">0</text>
<text x="205.4" y="489.9" font-size="4.9" text-anchor="middle" font-weight="400" fill="#1a1a1a" stroke="#1a1a1a"  style="">1</text>
<text x="211.7" y="489.9" font-size="4.9" text-anchor="middle" font-weight="400" fill="#1a1a1a" stroke="#1a1a1a"  style="">2</text>
<text x="188.2" y="498.6" font-size="7.3" text-anchor="start" font-weight="700" fill="#000" stroke="#000" textLength="27.4" lengthAdjust="spacingAndGlyphs"  style="">Row Z-score</text>
<text x="247.3" y="493.7" font-size="7.1" text-anchor="start" font-weight="400" fill="#000" stroke="#000" textLength="53.8" lengthAdjust="spacingAndGlyphs"  style="">KIR2DL1 single<tspan font-size="5" dy="-2.8">+</tspan></text>
<rect x="219.20" y="498.60" width="8.47" height="5.51" fill="#c3c9f0" stroke="#c8c8c8" stroke-width="0.4"/>
<rect x="227.67" y="498.60" width="8.47" height="5.51" fill="#8484ec" stroke="#c8c8c8" stroke-width="0.4"/>
<rect x="236.14" y="498.60" width="8.47" height="5.51" fill="#ffffff" stroke="#c8c8c8" stroke-width="0.4"/>
<rect x="244.61" y="498.60" width="8.47" height="5.51" fill="#f18383" stroke="#c8c8c8" stroke-width="0.4"/>
<rect x="253.08" y="498.60" width="8.47" height="5.51" fill="#f8d6cf" stroke="#c8c8c8" stroke-width="0.4"/>
<rect x="261.55" y="498.60" width="8.47" height="5.51" fill="#f18383" stroke="#c8c8c8" stroke-width="0.4"/>
<rect x="270.02" y="498.60" width="8.47" height="5.51" fill="#3434e8" stroke="#c8c8c8" stroke-width="0.4"/>
<rect x="278.48" y="498.60" width="8.47" height="5.51" fill="#a4abea" stroke="#c8c8c8" stroke-width="0.4"/>
<rect x="286.95" y="498.60" width="8.47" height="5.51" fill="#a4abea" stroke="#c8c8c8" stroke-width="0.4"/>
<rect x="295.42" y="498.60" width="8.47" height="5.51" fill="#eeeed2" stroke="#c8c8c8" stroke-width="0.4"/>
<rect x="303.89" y="498.60" width="8.47" height="5.51" fill="#f9efef" stroke="#c8c8c8" stroke-width="0.4"/>
<rect x="312.36" y="498.60" width="8.47" height="5.51" fill="#e9c3b3" stroke="#c8c8c8" stroke-width="0.4"/>
<rect x="320.83" y="498.60" width="8.47" height="5.51" fill="#f18383" stroke="#c8c8c8" stroke-width="0.4"/>
<rect x="219.20" y="504.11" width="8.47" height="5.51" fill="#f9efef" stroke="#c8c8c8" stroke-width="0.4"/>
<rect x="227.67" y="504.11" width="8.47" height="5.51" fill="#6464f2" stroke="#c8c8c8" stroke-width="0.4"/>
<rect x="236.14" y="504.11" width="8.47" height="5.51" fill="#f8d6cf" stroke="#c8c8c8" stroke-width="0.4"/>
<rect x="244.61" y="504.11" width="8.47" height="5.51" fill="#f1a6a6" stroke="#c8c8c8" stroke-width="0.4"/>
<rect x="253.08" y="504.11" width="8.47" height="5.51" fill="#f1a6a6" stroke="#c8c8c8" stroke-width="0.4"/>
<rect x="261.55" y="504.11" width="8.47" height="5.51" fill="#f18383" stroke="#c8c8c8" stroke-width="0.4"/>
<rect x="270.02" y="504.11" width="8.47" height="5.51" fill="#0808f4" stroke="#c8c8c8" stroke-width="0.4"/>
<rect x="278.48" y="504.11" width="8.47" height="5.51" fill="#f9efef" stroke="#c8c8c8" stroke-width="0.4"/>
<rect x="286.95" y="504.11" width="8.47" height="5.51" fill="#f18383" stroke="#c8c8c8" stroke-width="0.4"/>
<rect x="295.42" y="504.11" width="8.47" height="5.51" fill="#f9efef" stroke="#c8c8c8" stroke-width="0.4"/>
<rect x="303.89" y="504.11" width="8.47" height="5.51" fill="#f9efef" stroke="#c8c8c8" stroke-width="0.4"/>
<rect x="312.36" y="504.11" width="8.47" height="5.51" fill="#e3ecec" stroke="#c8c8c8" stroke-width="0.4"/>
<rect x="320.83" y="504.11" width="8.47" height="5.51" fill="#f8d6cf" stroke="#c8c8c8" stroke-width="0.4"/>
<rect x="219.20" y="509.62" width="8.47" height="5.51" fill="#f1a6a6" stroke="#c8c8c8" stroke-width="0.4"/>
<rect x="227.67" y="509.62" width="8.47" height="5.51" fill="#6464f2" stroke="#c8c8c8" stroke-width="0.4"/>
<rect x="236.14" y="509.62" width="8.47" height="5.51" fill="#97a0e8" stroke="#c8c8c8" stroke-width="0.4"/>
<rect x="244.61" y="509.62" width="8.47" height="5.51" fill="#f1a6a6" stroke="#c8c8c8" stroke-width="0.4"/>
<rect x="253.08" y="509.62" width="8.47" height="5.51" fill="#f8d6cf" stroke="#c8c8c8" stroke-width="0.4"/>
<rect x="261.55" y="509.62" width="8.47" height="5.51" fill="#f18383" stroke="#c8c8c8" stroke-width="0.4"/>
<rect x="270.02" y="509.62" width="8.47" height="5.51" fill="#5050ea" stroke="#c8c8c8" stroke-width="0.4"/>
<rect x="278.48" y="509.62" width="8.47" height="5.51" fill="#d4eef8" stroke="#c8c8c8" stroke-width="0.4"/>
<rect x="286.95" y="509.62" width="8.47" height="5.51" fill="#f18383" stroke="#c8c8c8" stroke-width="0.4"/>
<rect x="295.42" y="509.62" width="8.47" height="5.51" fill="#d4eef8" stroke="#c8c8c8" stroke-width="0.4"/>
<rect x="303.89" y="509.62" width="8.47" height="5.51" fill="#c3c9f0" stroke="#c8c8c8" stroke-width="0.4"/>
<rect x="312.36" y="509.62" width="8.47" height="5.51" fill="#f8d6cf" stroke="#c8c8c8" stroke-width="0.4"/>
<rect x="320.83" y="509.62" width="8.47" height="5.51" fill="#f1a6a6" stroke="#c8c8c8" stroke-width="0.4"/>
<rect x="219.20" y="515.12" width="8.47" height="5.51" fill="#f1a6a6" stroke="#c8c8c8" stroke-width="0.4"/>
<rect x="227.67" y="515.12" width="8.47" height="5.51" fill="#6464f2" stroke="#c8c8c8" stroke-width="0.4"/>
<rect x="236.14" y="515.12" width="8.47" height="5.51" fill="#d4eef8" stroke="#c8c8c8" stroke-width="0.4"/>
<rect x="244.61" y="515.12" width="8.47" height="5.51" fill="#f18383" stroke="#c8c8c8" stroke-width="0.4"/>
<rect x="253.08" y="515.12" width="8.47" height="5.51" fill="#ffffff" stroke="#c8c8c8" stroke-width="0.4"/>
<rect x="261.55" y="515.12" width="8.47" height="5.51" fill="#f1a6a6" stroke="#c8c8c8" stroke-width="0.4"/>
<rect x="270.02" y="515.12" width="8.47" height="5.51" fill="#3434e8" stroke="#c8c8c8" stroke-width="0.4"/>
<rect x="278.48" y="515.12" width="8.47" height="5.51" fill="#c3c9f0" stroke="#c8c8c8" stroke-width="0.4"/>
<rect x="286.95" y="515.12" width="8.47" height="5.51" fill="#c3c9f0" stroke="#c8c8c8" stroke-width="0.4"/>
<rect x="295.42" y="515.12" width="8.47" height="5.51" fill="#e9c3b3" stroke="#c8c8c8" stroke-width="0.4"/>
<rect x="303.89" y="515.12" width="8.47" height="5.51" fill="#f9efef" stroke="#c8c8c8" stroke-width="0.4"/>
<rect x="312.36" y="515.12" width="8.47" height="5.51" fill="#f1a6a6" stroke="#c8c8c8" stroke-width="0.4"/>
<rect x="320.83" y="515.12" width="8.47" height="5.51" fill="#f1a6a6" stroke="#c8c8c8" stroke-width="0.4"/>
<rect x="219.20" y="520.63" width="8.47" height="5.51" fill="#f8d6cf" stroke="#c8c8c8" stroke-width="0.4"/>
<rect x="227.67" y="520.63" width="8.47" height="5.51" fill="#a4abea" stroke="#c8c8c8" stroke-width="0.4"/>
<rect x="236.14" y="520.63" width="8.47" height="5.51" fill="#f8d6cf" stroke="#c8c8c8" stroke-width="0.4"/>
<rect x="244.61" y="520.63" width="8.47" height="5.51" fill="#f8d6cf" stroke="#c8c8c8" stroke-width="0.4"/>
<rect x="253.08" y="520.63" width="8.47" height="5.51" fill="#e3ecec" stroke="#c8c8c8" stroke-width="0.4"/>
<rect x="261.55" y="520.63" width="8.47" height="5.51" fill="#f1a6a6" stroke="#c8c8c8" stroke-width="0.4"/>
<rect x="270.02" y="520.63" width="8.47" height="5.51" fill="#1414f0" stroke="#c8c8c8" stroke-width="0.4"/>
<rect x="278.48" y="520.63" width="8.47" height="5.51" fill="#8484ec" stroke="#c8c8c8" stroke-width="0.4"/>
<rect x="286.95" y="520.63" width="8.47" height="5.51" fill="#f1a6a6" stroke="#c8c8c8" stroke-width="0.4"/>
<rect x="295.42" y="520.63" width="8.47" height="5.51" fill="#f9efef" stroke="#c8c8c8" stroke-width="0.4"/>
<rect x="303.89" y="520.63" width="8.47" height="5.51" fill="#f9efef" stroke="#c8c8c8" stroke-width="0.4"/>
<rect x="312.36" y="520.63" width="8.47" height="5.51" fill="#e9c3b3" stroke="#c8c8c8" stroke-width="0.4"/>
<rect x="320.83" y="520.63" width="8.47" height="5.51" fill="#f1a6a6" stroke="#c8c8c8" stroke-width="0.4"/>
<rect x="219.20" y="526.14" width="8.47" height="5.51" fill="#ffffff" stroke="#c8c8c8" stroke-width="0.4"/>
<rect x="227.67" y="526.14" width="8.47" height="5.51" fill="#a4abea" stroke="#c8c8c8" stroke-width="0.4"/>
<rect x="236.14" y="526.14" width="8.47" height="5.51" fill="#e9c3b3" stroke="#c8c8c8" stroke-width="0.4"/>
<rect x="244.61" y="526.14" width="8.47" height="5.51" fill="#f8d6cf" stroke="#c8c8c8" stroke-width="0.4"/>
<rect x="253.08" y="526.14" width="8.47" height="5.51" fill="#f9efef" stroke="#c8c8c8" stroke-width="0.4"/>
<rect x="261.55" y="526.14" width="8.47" height="5.51" fill="#e9c3b3" stroke="#c8c8c8" stroke-width="0.4"/>
<rect x="270.02" y="526.14" width="8.47" height="5.51" fill="#0808f4" stroke="#c8c8c8" stroke-width="0.4"/>
<rect x="278.48" y="526.14" width="8.47" height="5.51" fill="#c3c9f0" stroke="#c8c8c8" stroke-width="0.4"/>
<rect x="286.95" y="526.14" width="8.47" height="5.51" fill="#f09090" stroke="#c8c8c8" stroke-width="0.4"/>
<rect x="295.42" y="526.14" width="8.47" height="5.51" fill="#eeeed2" stroke="#c8c8c8" stroke-width="0.4"/>
<rect x="303.89" y="526.14" width="8.47" height="5.51" fill="#f9efef" stroke="#c8c8c8" stroke-width="0.4"/>
<rect x="312.36" y="526.14" width="8.47" height="5.51" fill="#f9efef" stroke="#c8c8c8" stroke-width="0.4"/>
<rect x="320.83" y="526.14" width="8.47" height="5.51" fill="#f8d6cf" stroke="#c8c8c8" stroke-width="0.4"/>
<rect x="219.20" y="531.65" width="8.47" height="5.51" fill="#f8d6cf" stroke="#c8c8c8" stroke-width="0.4"/>
<rect x="227.67" y="531.65" width="8.47" height="5.51" fill="#8484ec" stroke="#c8c8c8" stroke-width="0.4"/>
<rect x="236.14" y="531.65" width="8.47" height="5.51" fill="#ffffff" stroke="#c8c8c8" stroke-width="0.4"/>
<rect x="244.61" y="531.65" width="8.47" height="5.51" fill="#f1a6a6" stroke="#c8c8c8" stroke-width="0.4"/>
<rect x="253.08" y="531.65" width="8.47" height="5.51" fill="#eeeed2" stroke="#c8c8c8" stroke-width="0.4"/>
<rect x="261.55" y="531.65" width="8.47" height="5.51" fill="#f1a6a6" stroke="#c8c8c8" stroke-width="0.4"/>
<rect x="270.02" y="531.65" width="8.47" height="5.51" fill="#0808f4" stroke="#c8c8c8" stroke-width="0.4"/>
<rect x="278.48" y="531.65" width="8.47" height="5.51" fill="#c3c9f0" stroke="#c8c8c8" stroke-width="0.4"/>
<rect x="286.95" y="531.65" width="8.47" height="5.51" fill="#f9efef" stroke="#c8c8c8" stroke-width="0.4"/>
<rect x="295.42" y="531.65" width="8.47" height="5.51" fill="#f9efef" stroke="#c8c8c8" stroke-width="0.4"/>
<rect x="303.89" y="531.65" width="8.47" height="5.51" fill="#ffffff" stroke="#c8c8c8" stroke-width="0.4"/>
<rect x="312.36" y="531.65" width="8.47" height="5.51" fill="#f8d6cf" stroke="#c8c8c8" stroke-width="0.4"/>
<rect x="320.83" y="531.65" width="8.47" height="5.51" fill="#f1a6a6" stroke="#c8c8c8" stroke-width="0.4"/>
<rect x="219.20" y="537.16" width="8.47" height="5.51" fill="#e9c3b3" stroke="#c8c8c8" stroke-width="0.4"/>
<rect x="227.67" y="537.16" width="8.47" height="5.51" fill="#c3c9f0" stroke="#c8c8c8" stroke-width="0.4"/>
<rect x="236.14" y="537.16" width="8.47" height="5.51" fill="#ffffff" stroke="#c8c8c8" stroke-width="0.4"/>
<rect x="244.61" y="537.16" width="8.47" height="5.51" fill="#f9efef" stroke="#c8c8c8" stroke-width="0.4"/>
<rect x="253.08" y="537.16" width="8.47" height="5.51" fill="#c3c9f0" stroke="#c8c8c8" stroke-width="0.4"/>
<rect x="261.55" y="537.16" width="8.47" height="5.51" fill="#f18383" stroke="#c8c8c8" stroke-width="0.4"/>
<rect x="270.02" y="537.16" width="8.47" height="5.51" fill="#1414f0" stroke="#c8c8c8" stroke-width="0.4"/>
<rect x="278.48" y="537.16" width="8.47" height="5.51" fill="#9090e8" stroke="#c8c8c8" stroke-width="0.4"/>
<rect x="286.95" y="537.16" width="8.47" height="5.51" fill="#f18383" stroke="#c8c8c8" stroke-width="0.4"/>
<rect x="295.42" y="537.16" width="8.47" height="5.51" fill="#ffffff" stroke="#c8c8c8" stroke-width="0.4"/>
<rect x="303.89" y="537.16" width="8.47" height="5.51" fill="#ffffff" stroke="#c8c8c8" stroke-width="0.4"/>
<rect x="312.36" y="537.16" width="8.47" height="5.51" fill="#e9c3b3" stroke="#c8c8c8" stroke-width="0.4"/>
<rect x="320.83" y="537.16" width="8.47" height="5.51" fill="#f1a6a6" stroke="#c8c8c8" stroke-width="0.4"/>
<rect x="219.20" y="542.67" width="8.47" height="5.51" fill="#f8d6cf" stroke="#c8c8c8" stroke-width="0.4"/>
<rect x="227.67" y="542.67" width="8.47" height="5.51" fill="#ffffff" stroke="#c8c8c8" stroke-width="0.4"/>
<rect x="236.14" y="542.67" width="8.47" height="5.51" fill="#f8d6cf" stroke="#c8c8c8" stroke-width="0.4"/>
<rect x="244.61" y="542.67" width="8.47" height="5.51" fill="#f8d6cf" stroke="#c8c8c8" stroke-width="0.4"/>
<rect x="253.08" y="542.67" width="8.47" height="5.51" fill="#b8c0f0" stroke="#c8c8c8" stroke-width="0.4"/>
<rect x="261.55" y="542.67" width="8.47" height="5.51" fill="#f1a6a6" stroke="#c8c8c8" stroke-width="0.4"/>
<rect x="270.02" y="542.67" width="8.47" height="5.51" fill="#0808f4" stroke="#c8c8c8" stroke-width="0.4"/>
<rect x="278.48" y="542.67" width="8.47" height="5.51" fill="#5858f0" stroke="#c8c8c8" stroke-width="0.4"/>
<rect x="286.95" y="542.67" width="8.47" height="5.51" fill="#f09090" stroke="#c8c8c8" stroke-width="0.4"/>
<rect x="295.42" y="542.67" width="8.47" height="5.51" fill="#f9efef" stroke="#c8c8c8" stroke-width="0.4"/>
<rect x="303.89" y="542.67" width="8.47" height="5.51" fill="#f9efef" stroke="#c8c8c8" stroke-width="0.4"/>
<rect x="312.36" y="542.67" width="8.47" height="5.51" fill="#f8d6cf" stroke="#c8c8c8" stroke-width="0.4"/>
<rect x="320.83" y="542.67" width="8.47" height="5.51" fill="#f1a6a6" stroke="#c8c8c8" stroke-width="0.4"/>
<rect x="219.20" y="548.18" width="8.47" height="5.51" fill="#f9efef" stroke="#c8c8c8" stroke-width="0.4"/>
<rect x="227.67" y="548.18" width="8.47" height="5.51" fill="#e3ecec" stroke="#c8c8c8" stroke-width="0.4"/>
<rect x="236.14" y="548.18" width="8.47" height="5.51" fill="#e9c3b3" stroke="#c8c8c8" stroke-width="0.4"/>
<rect x="244.61" y="548.18" width="8.47" height="5.51" fill="#f8d6cf" stroke="#c8c8c8" stroke-width="0.4"/>
<rect x="253.08" y="548.18" width="8.47" height="5.51" fill="#ffffff" stroke="#c8c8c8" stroke-width="0.4"/>
<rect x="261.55" y="548.18" width="8.47" height="5.51" fill="#f1a6a6" stroke="#c8c8c8" stroke-width="0.4"/>
<rect x="270.02" y="548.18" width="8.47" height="5.51" fill="#0808f4" stroke="#c8c8c8" stroke-width="0.4"/>
<rect x="278.48" y="548.18" width="8.47" height="5.51" fill="#a4abea" stroke="#c8c8c8" stroke-width="0.4"/>
<rect x="286.95" y="548.18" width="8.47" height="5.51" fill="#f09090" stroke="#c8c8c8" stroke-width="0.4"/>
<rect x="295.42" y="548.18" width="8.47" height="5.51" fill="#eeeed2" stroke="#c8c8c8" stroke-width="0.4"/>
<rect x="303.89" y="548.18" width="8.47" height="5.51" fill="#f9efef" stroke="#c8c8c8" stroke-width="0.4"/>
<rect x="312.36" y="548.18" width="8.47" height="5.51" fill="#f9efef" stroke="#c8c8c8" stroke-width="0.4"/>
<rect x="320.83" y="548.18" width="8.47" height="5.51" fill="#eeeed2" stroke="#c8c8c8" stroke-width="0.4"/>
<rect x="219.20" y="553.68" width="8.47" height="5.51" fill="#f8d6cf" stroke="#c8c8c8" stroke-width="0.4"/>
<rect x="227.67" y="553.68" width="8.47" height="5.51" fill="#b8c0f0" stroke="#c8c8c8" stroke-width="0.4"/>
<rect x="236.14" y="553.68" width="8.47" height="5.51" fill="#f8d6cf" stroke="#c8c8c8" stroke-width="0.4"/>
<rect x="244.61" y="553.68" width="8.47" height="5.51" fill="#f8d6cf" stroke="#c8c8c8" stroke-width="0.4"/>
<rect x="253.08" y="553.68" width="8.47" height="5.51" fill="#c3c9f0" stroke="#c8c8c8" stroke-width="0.4"/>
<rect x="261.55" y="553.68" width="8.47" height="5.51" fill="#f1a6a6" stroke="#c8c8c8" stroke-width="0.4"/>
<rect x="270.02" y="553.68" width="8.47" height="5.51" fill="#0808f4" stroke="#c8c8c8" stroke-width="0.4"/>
<rect x="278.48" y="553.68" width="8.47" height="5.51" fill="#9098e8" stroke="#c8c8c8" stroke-width="0.4"/>
<rect x="286.95" y="553.68" width="8.47" height="5.51" fill="#f09090" stroke="#c8c8c8" stroke-width="0.4"/>
<rect x="295.42" y="553.68" width="8.47" height="5.51" fill="#f9efef" stroke="#c8c8c8" stroke-width="0.4"/>
<rect x="303.89" y="553.68" width="8.47" height="5.51" fill="#ffffff" stroke="#c8c8c8" stroke-width="0.4"/>
<rect x="312.36" y="553.68" width="8.47" height="5.51" fill="#f8d6cf" stroke="#c8c8c8" stroke-width="0.4"/>
<rect x="320.83" y="553.68" width="8.47" height="5.51" fill="#f1a6a6" stroke="#c8c8c8" stroke-width="0.4"/>
<rect x="219.20" y="559.19" width="8.47" height="5.51" fill="#f8d6cf" stroke="#c8c8c8" stroke-width="0.4"/>
<rect x="227.67" y="559.19" width="8.47" height="5.51" fill="#b8c0f0" stroke="#c8c8c8" stroke-width="0.4"/>
<rect x="236.14" y="559.19" width="8.47" height="5.51" fill="#e9c3b3" stroke="#c8c8c8" stroke-width="0.4"/>
<rect x="244.61" y="559.19" width="8.47" height="5.51" fill="#f9efef" stroke="#c8c8c8" stroke-width="0.4"/>
<rect x="253.08" y="559.19" width="8.47" height="5.51" fill="#e3ecec" stroke="#c8c8c8" stroke-width="0.4"/>
<rect x="261.55" y="559.19" width="8.47" height="5.51" fill="#f18383" stroke="#c8c8c8" stroke-width="0.4"/>
<rect x="270.02" y="559.19" width="8.47" height="5.51" fill="#1414f0" stroke="#c8c8c8" stroke-width="0.4"/>
<rect x="278.48" y="559.19" width="8.47" height="5.51" fill="#9098e8" stroke="#c8c8c8" stroke-width="0.4"/>
<rect x="286.95" y="559.19" width="8.47" height="5.51" fill="#f07878" stroke="#c8c8c8" stroke-width="0.4"/>
<rect x="295.42" y="559.19" width="8.47" height="5.51" fill="#d4eef8" stroke="#c8c8c8" stroke-width="0.4"/>
<rect x="303.89" y="559.19" width="8.47" height="5.51" fill="#e3ecec" stroke="#c8c8c8" stroke-width="0.4"/>
<rect x="312.36" y="559.19" width="8.47" height="5.51" fill="#f8d6cf" stroke="#c8c8c8" stroke-width="0.4"/>
<rect x="320.83" y="559.19" width="8.47" height="5.51" fill="#f8d6cf" stroke="#c8c8c8" stroke-width="0.4"/>
<text x="332.1" y="503.0" font-size="5.1" text-anchor="start" font-weight="400" fill="#1a1a1a" stroke="#1a1a1a"  style="">30_nsKIR</text>
<text x="332.1" y="508.5083333333333" font-size="5.1" text-anchor="start" font-weight="400" fill="#1a1a1a" stroke="#1a1a1a"  style="">30_d-rsKIR</text>
<text x="332.1" y="514.0166666666667" font-size="5.1" text-anchor="start" font-weight="400" fill="#1a1a1a" stroke="#1a1a1a"  style="">30_dsKIR</text>
<text x="332.1" y="519.525" font-size="5.1" text-anchor="start" font-weight="400" fill="#1a1a1a" stroke="#1a1a1a"  style="">30_rsKIR</text>
<text x="332.1" y="525.0333333333333" font-size="5.1" text-anchor="start" font-weight="400" fill="#1a1a1a" stroke="#1a1a1a"  style="">90_nsKIR</text>
<text x="332.1" y="530.5416666666666" font-size="5.1" text-anchor="start" font-weight="400" fill="#1a1a1a" stroke="#1a1a1a"  style="">90_d-rsKIR</text>
<text x="332.1" y="536.0500000000001" font-size="5.1" text-anchor="start" font-weight="400" fill="#1a1a1a" stroke="#1a1a1a"  style="">90_dsKIR</text>
<text x="332.1" y="541.5583333333334" font-size="5.1" text-anchor="start" font-weight="400" fill="#1a1a1a" stroke="#1a1a1a"  style="">90_rsKIR</text>
<text x="332.1" y="547.0666666666667" font-size="5.1" text-anchor="start" font-weight="400" fill="#1a1a1a" stroke="#1a1a1a"  style="">180_nsKIR</text>
<text x="332.1" y="552.575" font-size="5.1" text-anchor="start" font-weight="400" fill="#1a1a1a" stroke="#1a1a1a"  style="">180_d-rsKIR</text>
<text x="332.1" y="558.0833333333334" font-size="5.1" text-anchor="start" font-weight="400" fill="#1a1a1a" stroke="#1a1a1a"  style="">180_dsKIR</text>
<text x="332.1" y="563.5916666666667" font-size="5.1" text-anchor="start" font-weight="400" fill="#1a1a1a" stroke="#1a1a1a"  style="">180_rsKIR</text>
<text x="0" y="0" font-size="5.1" fill="#1a1a1a" text-anchor="end" transform="translate(226.33,570.7) rotate(-45)">MFI.of.DHAM.1</text>
<text x="0" y="0" font-size="5.1" fill="#1a1a1a" text-anchor="end" transform="translate(234.80,570.7) rotate(-45)">MFI.of.CD25</text>
<text x="0" y="0" font-size="5.1" fill="#1a1a1a" text-anchor="end" transform="translate(243.27,570.7) rotate(-45)">MFI.of.NKP30</text>
<text x="0" y="0" font-size="5.1" fill="#1a1a1a" text-anchor="end" transform="translate(251.74,570.7) rotate(-45)">MFI.of.NKP46</text>
<text x="0" y="0" font-size="5.1" fill="#1a1a1a" text-anchor="end" transform="translate(260.21,570.7) rotate(-45)">MFI.of.CD122</text>
<text x="0" y="0" font-size="5.1" fill="#1a1a1a" text-anchor="end" transform="translate(268.68,570.7) rotate(-45)">MFI.of.Bcl.2</text>
<text x="0" y="0" font-size="5.1" fill="#1a1a1a" text-anchor="end" transform="translate(277.15,570.7) rotate(-45)">DHAM.1</text>
<text x="0" y="0" font-size="5.1" fill="#1a1a1a" text-anchor="end" transform="translate(285.62,570.7) rotate(-45)">CD122</text>
<text x="0" y="0" font-size="5.1" fill="#1a1a1a" text-anchor="end" transform="translate(294.09,570.7) rotate(-45)">CD25</text>
<text x="0" y="0" font-size="5.1" fill="#1a1a1a" text-anchor="end" transform="translate(302.56,570.7) rotate(-45)">NKP46</text>
<text x="0" y="0" font-size="5.1" fill="#1a1a1a" text-anchor="end" transform="translate(311.03,570.7) rotate(-45)">NKP30</text>
<text x="0" y="0" font-size="5.1" fill="#1a1a1a" text-anchor="end" transform="translate(319.50,570.7) rotate(-45)">CD107a</text>
<text x="0" y="0" font-size="5.1" fill="#1a1a1a" text-anchor="end" transform="translate(327.97,570.7) rotate(-45)">IFNγ</text>
<text x="367.3" y="516.6" font-size="7.1" text-anchor="start" font-weight="400" fill="#222" stroke="#222" textLength="97.3" lengthAdjust="spacingAndGlyphs"  style="">The Methods to adjust the data</text>
<text x="367.3" y="525.4200000000001" font-size="7.1" text-anchor="start" font-weight="400" fill="#222" stroke="#222" textLength="68.6" lengthAdjust="spacingAndGlyphs"  style="">MFI of DHAM-1 / 100</text>
<text x="367.3" y="534.24" font-size="7.1" text-anchor="start" font-weight="400" fill="#222" stroke="#222" textLength="57.6" lengthAdjust="spacingAndGlyphs"  style="">MFI of Bcl-2 / 100</text>
<text x="367.3" y="543.0600000000001" font-size="7.1" text-anchor="start" font-weight="400" fill="#222" stroke="#222" textLength="60.1" lengthAdjust="spacingAndGlyphs"  style="">MFI of NKP30 / 10</text>
<text x="367.3" y="551.88" font-size="7.1" text-anchor="start" font-weight="400" fill="#222" stroke="#222" textLength="60.1" lengthAdjust="spacingAndGlyphs"  style="">MFI of NKP46 / 10</text>
<text x="367.3" y="560.7" font-size="7.1" text-anchor="start" font-weight="400" fill="#222" stroke="#222" textLength="60.1" lengthAdjust="spacingAndGlyphs"  style="">MFI of CD122 / 10</text>
<text x="367.3" y="569.52" font-size="7.1" text-anchor="start" font-weight="400" fill="#222" stroke="#222" textLength="30.1" lengthAdjust="spacingAndGlyphs"  style="">CD25*10</text>
<rect x="0.5" y="0.5" width="519" height="601" fill="none" stroke="#000" stroke-width="1.2"/>
</svg>
</body></html>
